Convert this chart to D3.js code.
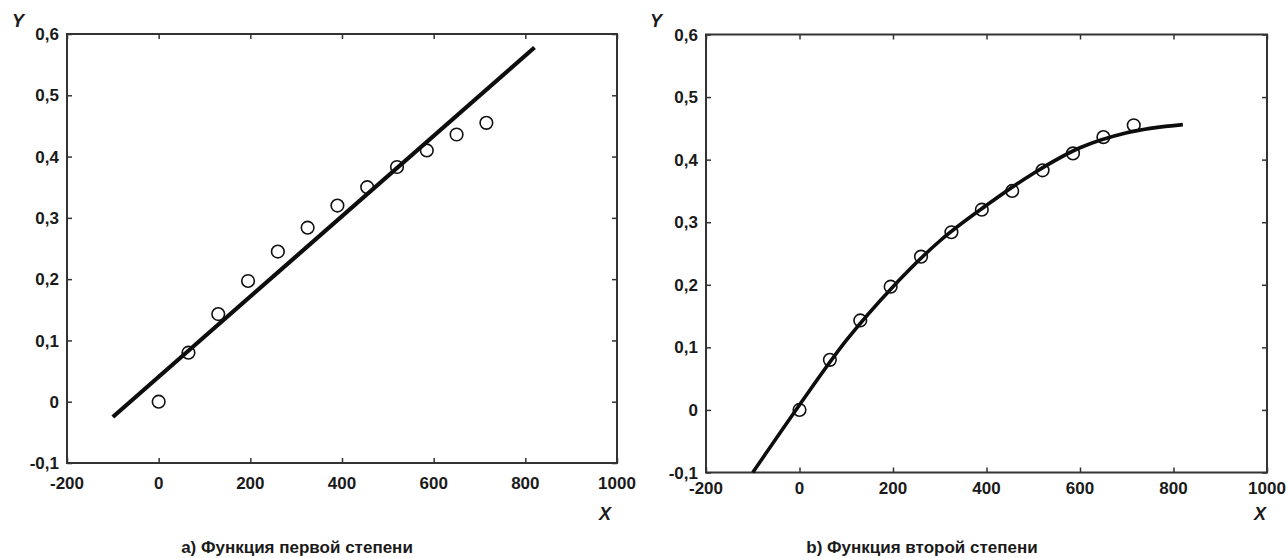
<!DOCTYPE html>
<html>
<head>
<meta charset="utf-8">
<script src="https://cdn.jsdelivr.net/npm/d3@7"></script>
<style>
  html, body { margin: 0; padding: 0; background: #fff; }
  svg { display: block; }
  text { font-family: "Liberation Sans", Arial, sans-serif; font-weight: bold; fill: #1a1a1a; }
</style>
</head>
<body>
<svg id="chart" width="1288" height="558"></svg>
<script>
// Measured points (X, Y)
const xValues = [0, 65, 130, 195, 260, 325, 390, 455, 520, 585, 650, 715];
const yValues = [0, 0.080, 0.143, 0.197, 0.245, 0.284, 0.320, 0.350, 0.383, 0.410, 0.436, 0.455];

// First-degree fit (straight line) – end points
const linearX = [-100, 820];
const linearY = [-0.025, 0.578];

// Second-degree fit (parabola) – points along the curve
const quadX = [-100, 0, 100, 200, 300, 400, 500, 600, 700, 820];
const quadY = [-0.100, 0.008, 0.111, 0.197, 0.270, 0.327, 0.378, 0.419, 0.443, 0.456];

// Axis ticks
const xTicks = [-200, 0, 200, 400, 600, 800, 1000];
const yTicks = [-0.1, 0, 0.1, 0.2, 0.3, 0.4, 0.5, 0.6];

const captions = ["a) Функция первой степени", "b) Функция второй степени"];

const svg = d3.select("#chart");
const fmt = v => (Math.abs(v) < 1e-9 ? "0" : d3.format(".1f")(v).replace(".", ",").replace("−", "-"));

const panels = [
  { left: 67, right: 617, top: 34, bottom: 463, xLabelGap: 26, fit: { xs: linearX, ys: linearY, width: 4.2 },
    caption: captions[0], captionX: 297, yLabelX: 18, xLabelX: 605 },
  { left: 706, right: 1267, top: 34.5, bottom: 472.5, xLabelGap: 21, fit: { xs: quadX, ys: quadY, width: 3.6 },
    caption: captions[1], captionX: 922, yLabelX: 656, xLabelX: 1260 }
];

panels.forEach(p => {
  const x = d3.scaleLinear().domain([-200, 1000]).range([p.left, p.right]);
  const y = d3.scaleLinear().domain([-0.1, 0.6]).range([p.bottom, p.top]);
  const g = svg.append("g");
  const frame = "#333";
  const tickLen = 5;

  // mirrored inward ticks on all sides
  const axB = d3.axisBottom(x).tickValues(xTicks).tickSize(tickLen).tickFormat("");
  const axT = d3.axisTop(x).tickValues(xTicks).tickSize(tickLen).tickFormat("");
  const axL = d3.axisLeft(y).tickValues(yTicks).tickSize(tickLen).tickFormat("");
  const axR = d3.axisRight(y).tickValues(yTicks).tickSize(tickLen).tickFormat("");

  g.append("g").attr("transform", `translate(0,${p.bottom})`).call(axB)
    .call(s => s.selectAll(".tick line").attr("y2", -tickLen));
  g.append("g").attr("transform", `translate(0,${p.top})`).call(axT)
    .call(s => s.selectAll(".tick line").attr("y2", tickLen));
  g.append("g").attr("transform", `translate(${p.left},0)`).call(axL)
    .call(s => s.selectAll(".tick line").attr("x2", tickLen));
  g.append("g").attr("transform", `translate(${p.right},0)`).call(axR)
    .call(s => s.selectAll(".tick line").attr("x2", -tickLen));
  g.selectAll(".domain").remove();
  g.selectAll(".tick line").attr("stroke", frame).attr("stroke-width", 1.5);

  g.append("rect")
    .attr("x", p.left).attr("y", p.top)
    .attr("width", p.right - p.left).attr("height", p.bottom - p.top)
    .attr("fill", "none").attr("stroke", frame).attr("stroke-width", 2);

  // tick labels
  g.selectAll(".xl").data(xTicks).join("text")
    .attr("x", d => x(d)).attr("y", p.bottom + p.xLabelGap)
    .attr("text-anchor", "middle").attr("font-size", 17)
    .text(d => d3.format("d")(d).replace("−", "-"));
  g.selectAll(".yl").data(yTicks).join("text")
    .attr("x", p.left - 8).attr("y", d => y(d)).attr("dy", "0.36em")
    .attr("text-anchor", "end").attr("font-size", 17)
    .text(fmt);

  // axis names
  g.append("text").attr("x", p.yLabelX).attr("y", 27)
    .attr("text-anchor", "middle").attr("font-size", 18).attr("font-style", "italic").text("Y");
  g.append("text").attr("x", p.xLabelX).attr("y", 520)
    .attr("text-anchor", "middle").attr("font-size", 18).attr("font-style", "italic").text("X");

  // measured points
  g.selectAll(".pt").data(xValues).join("circle")
    .attr("cx", d => x(d)).attr("cy", (d, i) => y(yValues[i]))
    .attr("r", 6.3).attr("fill", "none").attr("stroke", "#111").attr("stroke-width", 1.6);

  // fitted function
  const pts = p.fit.xs.map((v, i) => [v, p.fit.ys[i]]);
  const line = d3.line().x(d => x(d[0])).y(d => y(d[1])).curve(d3.curveMonotoneX);
  g.append("path").datum(pts).attr("d", line)
    .attr("fill", "none").attr("stroke", "#0d0d0d").attr("stroke-width", p.fit.width);

  // caption
  g.append("text").attr("x", p.captionX).attr("y", 553)
    .attr("text-anchor", "middle").attr("font-size", 17).text(p.caption);
});
</script>
</body>
</html>
